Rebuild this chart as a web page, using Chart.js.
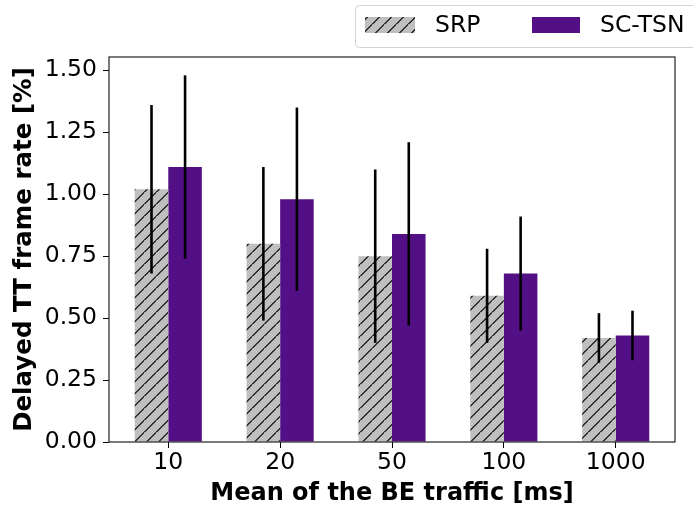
<!DOCTYPE html>
<html>
<head>
<meta charset="utf-8">
<script src="https://cdn.jsdelivr.net/npm/chart.js@4.4.1/dist/chart.umd.min.js"></script>
<style>
  html, body { margin: 0; padding: 0; background: #fff; }
  #wrap { width: 693px; height: 506px; position: relative; }
</style>
</head>
<body>
<div id="wrap"><canvas id="chart" width="693" height="506"></canvas></div>
<script>
// Mean BE traffic inter-arrival (ms)
const categories = ['10', '20', '50', '100', '1000'];

// Delayed TT frame rate [%] — mean values
const srpValues   = [1.02, 0.80, 0.75, 0.59, 0.42];
const sctsnValues = [1.11, 0.98, 0.84, 0.68, 0.43];

// Error bar extents (low, high)
const srpLow    = [0.68, 0.49, 0.40, 0.40, 0.32];
const srpHigh   = [1.36, 1.11, 1.10, 0.78, 0.52];
const sctsnLow  = [0.74, 0.61, 0.47, 0.45, 0.33];
const sctsnHigh = [1.48, 1.35, 1.21, 0.91, 0.53];

const yTicks = [0, 0.25, 0.5, 0.75, 1.0, 1.25, 1.5];

const FONT = "'DejaVu Sans', sans-serif";
const PURPLE = '#530f85';
const SILVER = '#bfbfbf';

// Diagonal "/" hatch on silver
function makeHatch() {
  const p = 12.5;
  const c = document.createElement('canvas');
  c.width = p; c.height = p;
  const g = c.getContext('2d');
  g.fillStyle = SILVER;
  g.fillRect(0, 0, p, p);
  g.strokeStyle = '#000';
  g.lineWidth = 1.1;
  g.beginPath();
  g.moveTo(-1, p + 1); g.lineTo(p + 1, -1);
  g.moveTo(-1, 1); g.lineTo(1, -1);
  g.moveTo(p - 1, p + 1); g.lineTo(p + 1, p - 1);
  g.stroke();
  return g.createPattern(c, 'repeat');
}
const hatch = makeHatch();

const toPoints = vals => vals.map((v, i) => ({ x: i, y: v }));

const errorBars = {
  id: 'errorBars',
  afterDatasetsDraw(chart) {
    const ctx = chart.ctx;
    const y = chart.scales.y;
    const ranges = [[srpLow, srpHigh], [sctsnLow, sctsnHigh]];
    ctx.save();
    ctx.strokeStyle = '#000';
    ctx.lineWidth = 2.6;
    chart.data.datasets.forEach((ds, di) => {
      const meta = chart.getDatasetMeta(di);
      meta.data.forEach((el, i) => {
        ctx.beginPath();
        ctx.moveTo(el.x, y.getPixelForValue(ranges[di][0][i]));
        ctx.lineTo(el.x, y.getPixelForValue(ranges[di][1][i]));
        ctx.stroke();
      });
    });
    ctx.restore();
  }
};

const frameAndLegend = {
  id: 'frameAndLegend',
  afterDraw(chart) {
    const ctx = chart.ctx;
    const a = chart.chartArea;
    ctx.save();
    // axes frame
    ctx.strokeStyle = '#222';
    ctx.lineWidth = 1.2;
    ctx.strokeRect(a.left, a.top, a.right - a.left, a.bottom - a.top);

    // legend box
    const bx = 355.5, by = 5.5, bw = 350, bh = 42, r = 4;
    ctx.beginPath();
    ctx.moveTo(bx + r, by);
    ctx.lineTo(bx + bw - r, by);
    ctx.arcTo(bx + bw, by, bx + bw, by + r, r);
    ctx.lineTo(bx + bw, by + bh - r);
    ctx.arcTo(bx + bw, by + bh, bx + bw - r, by + bh, r);
    ctx.lineTo(bx + r, by + bh);
    ctx.arcTo(bx, by + bh, bx, by + bh - r, r);
    ctx.lineTo(bx, by + r);
    ctx.arcTo(bx, by, bx + r, by, r);
    ctx.closePath();
    ctx.fillStyle = 'rgba(255,255,255,0.8)';
    ctx.fill();
    ctx.strokeStyle = '#d4d4d4';
    ctx.lineWidth = 1;
    ctx.stroke();

    ctx.fillStyle = hatch;
    ctx.fillRect(365, 17, 50, 16);
    ctx.fillStyle = PURPLE;
    ctx.fillRect(532, 17, 48, 16);

    ctx.fillStyle = '#000';
    ctx.font = "23.5px " + FONT;
    ctx.textBaseline = 'middle';
    ctx.textAlign = 'left';
    ctx.fillText('SRP', 435, 26);
    ctx.fillText('SC-TSN', 600, 26);
    ctx.restore();
  }
};

new Chart(document.getElementById('chart'), {
  type: 'bar',
  data: {
    datasets: [
      { label: 'SRP', data: toPoints(srpValues), backgroundColor: hatch, borderWidth: 0,
        categoryPercentage: 0.6, barPercentage: 1.0 },
      { label: 'SC-TSN', data: toPoints(sctsnValues), backgroundColor: PURPLE, borderWidth: 0,
        categoryPercentage: 0.6, barPercentage: 1.0 }
    ]
  },
  options: {
    responsive: false,
    animation: false,
    devicePixelRatio: 1,
    layout: { padding: { top: 57, right: 18, left: 0, bottom: 0 } },
    plugins: { legend: { display: false }, tooltip: { enabled: false } },
    scales: {
      x: {
        type: 'linear',
        min: -0.53,
        max: categories.length - 1 + 0.53,
        offset: false,
        border: { display: false },
        afterBuildTicks(s) { s.ticks = categories.map((c, i) => ({ value: i })); },
        grid: { offset: false, drawOnChartArea: false, drawTicks: true, tickLength: 6, color: '#000', lineWidth: 1 },
        ticks: { color: '#000', font: { family: FONT, size: 23.5 }, padding: 1, maxRotation: 0,
                 autoSkip: false, callback: v => categories[v] },
        title: { display: true, text: 'Mean of the BE traffic [ms]', color: '#000',
                 font: { family: FONT, size: 24, weight: 'bold', lineHeight: 1.0 },
                 padding: { top: 0, bottom: 0 } },
        afterFit(s) { s.height = 64; }
      },
      y: {
        min: 0,
        max: 1.554,
        border: { display: false },
        grid: { drawOnChartArea: false, drawTicks: true, tickLength: 6, color: '#000', lineWidth: 1 },
        afterBuildTicks(s) { s.ticks = yTicks.map(v => ({ value: v })); },
        ticks: { color: '#000', font: { family: FONT, size: 23.5 }, padding: 6,
                 callback: v => Number(v).toFixed(2) },
        title: { display: true, text: 'Delayed TT frame rate [%]', color: '#000',
                 font: { family: FONT, size: 24.5, weight: 'bold', lineHeight: 1.0 },
                 padding: { top: 12, bottom: 0 } },
        afterFit(s) { s.width = 109; }
      }
    }
  },
  plugins: [errorBars, frameAndLegend]
});
</script>
</body>
</html>
